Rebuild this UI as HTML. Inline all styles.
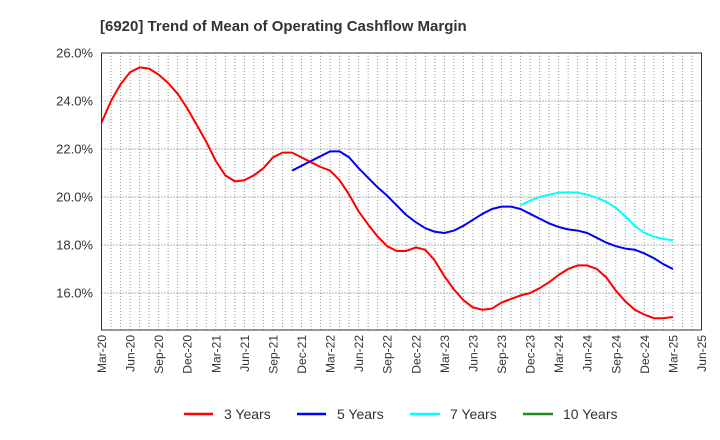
<!DOCTYPE html>
<html><head><meta charset="utf-8">
<style>
html,body{margin:0;padding:0;background:#fff;}
svg{display:block;font-family:"Liberation Sans",Arial,sans-serif;}
</style></head>
<body>
<svg id="chart" width="720" height="440" viewBox="0 0 720 440">
<rect width="720" height="440" fill="#fff"/>
<text x="100" y="31" font-size="15" font-weight="bold" fill="#333">[6920]  Trend of Mean of Operating Cashflow Margin</text>
<g id="grid"></g>
<g id="yaxis"></g>
<g id="xaxis"></g>
<g id="series"></g>
<rect x="101.5" y="53" width="600" height="277" fill="none" stroke="#333" stroke-width="1"/>
<g>
<g><line x1="184" y1="414" x2="213" y2="414" stroke="#ff0000" stroke-width="2.5"/><text x="224" y="419" font-size="14" fill="#333">3 Years</text></g>
<g><line x1="297" y1="414" x2="326" y2="414" stroke="#0000ff" stroke-width="2.5"/><text x="337" y="419" font-size="14" fill="#333">5 Years</text></g>
<g><line x1="410" y1="414" x2="440" y2="414" stroke="#00ffff" stroke-width="2.5"/><text x="450" y="419" font-size="14" fill="#333">7 Years</text></g>
<g><line x1="523" y1="414" x2="553" y2="414" stroke="#228b22" stroke-width="2.5"/><text x="563" y="419" font-size="14" fill="#333">10 Years</text></g>
</g>
</svg>
<script>
const xTickLabels = ["Mar-20","Jun-20","Sep-20","Dec-20","Mar-21","Jun-21","Sep-21","Dec-21","Mar-22","Jun-22","Sep-22","Dec-22","Mar-23","Jun-23","Sep-23","Dec-23","Mar-24","Jun-24","Sep-24","Dec-24","Mar-25","Jun-25"];
const yTickValues = [16,18,20,22,24,26];
// monthly values, month index 0 = Mar-20
const series3Start = 0;
const series3 = [23.1,24.0,24.7,25.2,25.4,25.35,25.1,24.75,24.3,23.7,23.0,22.3,21.5,20.9,20.65,20.7,20.9,21.2,21.65,21.85,21.85,21.65,21.45,21.25,21.1,20.7,20.1,19.4,18.85,18.35,17.95,17.75,17.75,17.9,17.8,17.35,16.7,16.15,15.7,15.4,15.3,15.35,15.6,15.75,15.9,16.0,16.2,16.45,16.75,17.0,17.15,17.15,17.0,16.65,16.1,15.65,15.3,15.1,14.95,14.95,15.0];
const series5Start = 20;
const series5 = [21.1,21.3,21.5,21.7,21.9,21.9,21.65,21.2,20.8,20.4,20.05,19.65,19.25,18.95,18.7,18.55,18.5,18.6,18.8,19.05,19.3,19.5,19.6,19.6,19.5,19.3,19.1,18.9,18.75,18.65,18.6,18.5,18.3,18.1,17.95,17.85,17.8,17.65,17.45,17.2,17.0];
const series7Start = 44;
const series7 = [19.65,19.85,20.0,20.1,20.18,20.2,20.18,20.1,19.97,19.8,19.55,19.2,18.8,18.5,18.35,18.25,18.2];

const NS="http://www.w3.org/2000/svg";
const X0=101.5, X1=701.5, Y0=330, Y1=53;
const monthsTotal=(xTickLabels.length-1)*3;
const xScale=i=>X0+i*(X1-X0)/monthsTotal;
const yScale=v=>Y1+(26-v)*(Y0-Y1)/(26-14.458);
function mk(t,a,p){const e=document.createElementNS(NS,t);for(const k in a)e.setAttribute(k,a[k]);p.appendChild(e);return e;}
const grid=document.getElementById('grid'), ya=document.getElementById('yaxis'), xa=document.getElementById('xaxis'), sg=document.getElementById('series');
for(let m=1;m<monthsTotal;m++){
  const x=xScale(m);
  const l=mk('line',{x1:x,x2:x,y1:Y1,y2:Y0,stroke:'#999','stroke-width':1,'stroke-dasharray':'1,2'},grid);
  
  
}
yTickValues.forEach(v=>{
  const y=yScale(v);
  const l=mk('line',{x1:X0,x2:X1,y1:y,y2:y,stroke:'#666','stroke-width':1,'stroke-dasharray':'1,2'},grid);
  
  
  const t=mk('text',{x:93,y:y+4.5,'font-size':13,'text-anchor':'end',fill:'#333'},ya);
  t.textContent=v.toFixed(1)+'%';
  
  
});
xTickLabels.forEach((s,i)=>{
  const x=xScale(i*3);
  const t=mk('text',{x:0,y:0,'font-size':12,'text-anchor':'end',fill:'#333',transform:`translate(${x+4.5},335) rotate(-90)`},xa);
  t.textContent=s;
  
  
});
function draw(vals,start,color,name){
  const pts=vals.map((v,i)=>xScale(start+i).toFixed(2)+','+yScale(v).toFixed(2)).join(' ');
  const p=mk('polyline',{points:pts,fill:'none',stroke:color,'stroke-width':2,'stroke-linejoin':'round'},sg);
  
  
}
draw(series3,series3Start,'#ff0000','line-3-years');
draw(series5,series5Start,'#0000ff','line-5-years');
draw(series7,series7Start,'#00ffff','line-7-years');
</script>
</body></html>
